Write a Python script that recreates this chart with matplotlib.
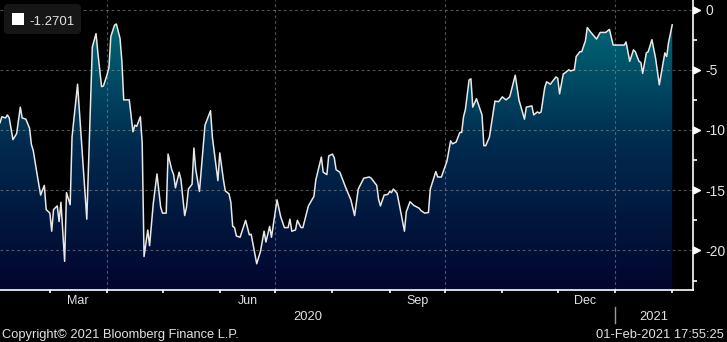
import numpy as np
import pandas as pd
import matplotlib
matplotlib.use("Agg")
import matplotlib.pyplot as plt
import matplotlib.dates as mdates
import matplotlib.transforms as mtransforms
from matplotlib.colors import LinearSegmentedColormap
from matplotlib.patches import FancyBboxPatch, Rectangle
from matplotlib.lines import Line2D

# series
dates = [
    "2020-02-03", "2020-02-04", "2020-02-06", "2020-02-07", "2020-02-08", "2020-02-10",
    "2020-02-12", "2020-02-14", "2020-02-15", "2020-02-17", "2020-02-19", "2020-02-20",
    "2020-02-21", "2020-02-23", "2020-02-25", "2020-02-27", "2020-02-28", "2020-03-01",
    "2020-03-02", "2020-03-03", "2020-03-05", "2020-03-06", "2020-03-07", "2020-03-09",
    "2020-03-10", "2020-03-12", "2020-03-13", "2020-03-16", "2020-03-19", "2020-03-21",
    "2020-03-24", "2020-03-26", "2020-03-27", "2020-03-29", "2020-03-30", "2020-04-01",
    "2020-04-02", "2020-04-03", "2020-04-05", "2020-04-06", "2020-04-08", "2020-04-09",
    "2020-04-10", "2020-04-13", "2020-04-15", "2020-04-16", "2020-04-17", "2020-04-19",
    "2020-04-20", "2020-04-21", "2020-04-23", "2020-04-24", "2020-04-26", "2020-04-28",
    "2020-04-30", "2020-05-01", "2020-05-03", "2020-05-04", "2020-05-06", "2020-05-07",
    "2020-05-08", "2020-05-10", "2020-05-11", "2020-05-13", "2020-05-14", "2020-05-15",
    "2020-05-17", "2020-05-18", "2020-05-19", "2020-05-21", "2020-05-24", "2020-05-25",
    "2020-05-27", "2020-05-28", "2020-05-30", "2020-05-31", "2020-06-01", "2020-06-03",
    "2020-06-04", "2020-06-06", "2020-06-07", "2020-06-08", "2020-06-09", "2020-06-10",
    "2020-06-12", "2020-06-15", "2020-06-17", "2020-06-18", "2020-06-21", "2020-06-23",
    "2020-06-25", "2020-06-26", "2020-06-28", "2020-06-29", "2020-07-02", "2020-07-04",
    "2020-07-06", "2020-07-08", "2020-07-09", "2020-07-10", "2020-07-12", "2020-07-13",
    "2020-07-15", "2020-07-16", "2020-07-19", "2020-07-22", "2020-07-23", "2020-07-26",
    "2020-07-27", "2020-07-29", "2020-07-30", "2020-08-01", "2020-08-02", "2020-08-03",
    "2020-08-05", "2020-08-08", "2020-08-11", "2020-08-13", "2020-08-15", "2020-08-18",
    "2020-08-21", "2020-08-22", "2020-08-25", "2020-08-26", "2020-08-27", "2020-08-29",
    "2020-08-31", "2020-09-01", "2020-09-02", "2020-09-03", "2020-09-05", "2020-09-07",
    "2020-09-09", "2020-09-10", "2020-09-12", "2020-09-14", "2020-09-17", "2020-09-18",
    "2020-09-20", "2020-09-22", "2020-09-23", "2020-09-26", "2020-09-27", "2020-09-29",
    "2020-10-02", "2020-10-04", "2020-10-05", "2020-10-07", "2020-10-09", "2020-10-10",
    "2020-10-11", "2020-10-12", "2020-10-14", "2020-10-15", "2020-10-16", "2020-10-18",
    "2020-10-21", "2020-10-22", "2020-10-23", "2020-10-25", "2020-10-28", "2020-10-30",
    "2020-11-01", "2020-11-03", "2020-11-05", "2020-11-08", "2020-11-10", "2020-11-13",
    "2020-11-14", "2020-11-17", "2020-11-18", "2020-11-20", "2020-11-21", "2020-11-22",
    "2020-11-24", "2020-11-25", "2020-11-27", "2020-11-30", "2020-12-01", "2020-12-02",
    "2020-12-04", "2020-12-05", "2020-12-07", "2020-12-08", "2020-12-10", "2020-12-11",
    "2020-12-13", "2020-12-14", "2020-12-16", "2020-12-17", "2020-12-19", "2020-12-22",
    "2020-12-24", "2020-12-27", "2020-12-29", "2020-12-31", "2021-01-03", "2021-01-06",
    "2021-01-07", "2021-01-09", "2021-01-11", "2021-01-12", "2021-01-14", "2021-01-15",
    "2021-01-16", "2021-01-18", "2021-01-19", "2021-01-21", "2021-01-23", "2021-01-25",
    "2021-01-28", "2021-01-29", "2021-01-30", "2021-02-01",
]
values = [
    -9.4, -8.9, -9.0, -8.75, -9.0, -10.8,
    -10.3, -8.1, -9.0, -9.1, -9.85, -11.2,
    -11.7, -13.6, -15.4, -14.6, -16.6, -16.9,
    -18.4, -16.6, -16.3, -17.6, -16.0, -20.9,
    -15.2, -16.2, -10.6, -6.2, -13.0, -17.4,
    -3.1, -2.0, -3.6, -6.4, -6.35, -5.4,
    -4.8, -2.25, -1.3, -1.2, -2.4, -4.3,
    -7.5, -7.5, -10.15, -9.6, -9.7, -8.9,
    -11.1, -20.5, -18.3, -19.6, -16.1, -13.65,
    -16.4, -16.9, -16.9, -12.0, -13.3, -13.7,
    -14.8, -13.5, -14.15, -17.1, -16.4, -14.9,
    -14.5, -11.5, -13.3, -15.1, -9.6, -9.2,
    -8.4, -10.6, -13.0, -14.2, -11.9, -14.15,
    -15.05, -15.3, -16.0, -18.0, -18.1, -18.8,
    -18.9, -17.5, -18.7, -18.65, -21.1, -20.1,
    -18.4, -19.3, -18.0, -18.9, -15.8, -17.2,
    -18.1, -18.1, -17.4, -18.4, -18.3, -17.5,
    -18.1, -18.1, -16.3, -15.5, -14.15, -12.25,
    -13.5, -13.7, -12.15, -12.0, -12.3, -13.3,
    -13.5, -14.7, -15.8, -17.1, -14.9, -14.0,
    -13.9, -14.0, -14.6, -15.75, -16.3, -15.4,
    -15.35, -15.1, -15.2, -14.9, -15.25, -16.8,
    -18.4, -16.8, -15.95, -16.25, -16.5, -16.7,
    -16.9, -16.85, -14.9, -13.45, -13.9, -13.9,
    -12.6, -10.9, -11.15, -11.0, -10.2, -10.2,
    -8.9, -8.3, -5.85, -5.75, -8.1, -7.4,
    -8.75, -11.3, -11.3, -10.6, -7.6, -7.65,
    -7.25, -7.5, -7.25, -5.45, -7.5, -9.1,
    -8.1, -8.0, -8.75, -8.5, -8.6, -8.5,
    -6.45, -6.0, -6.2, -5.6, -5.7, -7.0,
    -5.35, -5.25, -5.0, -5.1, -5.0, -3.9,
    -3.5, -3.5, -2.6, -1.5, -1.9, -2.45,
    -1.9, -1.9, -1.65, -2.95, -2.95, -2.95,
    -2.7, -4.3, -3.35, -3.5, -4.3, -4.4,
    -5.3, -3.6, -3.5, -2.5, -4.05, -6.25,
    -3.6, -3.9, -2.75, -1.2701,
]
last_value = -1.2701

yticks = [0, -5, -10, -15, -20]
ytick_minor = [-2.5, -7.5, -12.5, -17.5, -22.5]
month_labels = ["Mar", "Jun", "Sep", "Dec"]
month_label_dates = ["2020-03-16", "2020-06-16", "2020-09-16", "2020-12-16"]
grid_dates = ["2020-04-01", "2020-07-01", "2020-10-01", "2021-01-01"]

plt.rcParams["font.family"] = ["Liberation Sans", "DejaVu Sans"]
txt = "#e2e2e2"

x = pd.to_datetime(dates)
x0, x1 = pd.Timestamp("2020-02-03"), pd.Timestamp("2021-02-12 06:00")
y0, y1 = -23.28, 0.79

fig = plt.figure(figsize=(7.27, 3.42), dpi=100, facecolor="black")
ax = fig.add_axes([0, 52 / 342, 693 / 727, 290 / 342])
ax.set_facecolor("black")

# gradient fill under the line
poly = ax.fill_between(x, values, y0 - 5, color="none", lw=0)
cmap = LinearSegmentedColormap.from_list("bb", ["#03052e", "#012a4e", "#00727e"])
xn0, xn1 = mdates.date2num(x0), mdates.date2num(x1)
img = ax.imshow(np.linspace(0, 1, 256).reshape(-1, 1), cmap=cmap, aspect="auto",
                extent=[xn0, xn1, y0, y1], origin="lower", zorder=1)
img.set_clip_path(poly.get_paths()[0], transform=ax.transData)

# dashed grid
for gy in yticks:
    ax.axhline(gy, color="#8a8a8a", lw=0.8, ls=(0, (2.5, 2.5)), alpha=0.6, zorder=2)
for gd in grid_dates:
    ax.axvline(pd.Timestamp(gd), color="#8a8a8a", lw=0.8, ls=(0, (2.5, 2.5)), alpha=0.6, zorder=2)

ax.plot(x, values, color="#e8e8e8", lw=1.1, zorder=3)

ax.set_xlim(x0, x1)
ax.set_ylim(y0, y1)

for s in ["left", "top"]:
    ax.spines[s].set_visible(False)
for s in ["bottom", "right"]:
    ax.spines[s].set_color("white")
    ax.spines[s].set_linewidth(1.2)

# right axis
ax.yaxis.tick_right()
ax.set_yticks(yticks)
ax.set_yticklabels([str(v) for v in yticks])
ax.set_yticks(ytick_minor, minor=True)
ax.tick_params(axis="y", which="major", length=0, pad=9, labelcolor=txt, labelsize=10)
ax.tick_params(axis="y", which="minor", length=3, width=1.2, color="white")
tri = [(0, -1), (2, 0), (0, 1), (0, -1)]
ax.plot([1.0] * len(yticks), yticks, transform=ax.get_yaxis_transform(), marker=tri,
        ms=10, ls="none", color="white", clip_on=False, zorder=5)

# bottom axis
ax.xaxis.set_major_locator(mdates.MonthLocator())
ax.tick_params(axis="x", which="major", length=2.5, width=1.2, color="white", labelbottom=False)
xt = mtransforms.blended_transform_factory(ax.transData, fig.transFigure)
for lab, d in zip(month_labels, month_label_dates):
    fig.text(mdates.date2num(pd.Timestamp(d)), (342 - 304) / 342, lab, transform=xt,
             ha="center", va="baseline", color=txt, fontsize=9)

jan1 = mdates.date2num(pd.Timestamp("2021-01-01"))
fig.text((xn0 + jan1) / 2, (342 - 320.5) / 342, "2020", transform=xt, ha="center",
         va="baseline", color=txt, fontsize=9.3)
fig.text((jan1 + xn1) / 2, (342 - 320.5) / 342, "2021", transform=xt, ha="center",
         va="baseline", color=txt, fontsize=9.3)
fig.add_artist(Line2D([jan1, jan1], [(342 - 307) / 342, (342 - 323) / 342], transform=xt,
                      color="#9a9a9a", lw=1))

# footer
fig.text(2 / 727, (342 - 338) / 342, "Copyright\u00a9 2021 Bloomberg Finance L.P.",
         ha="left", va="baseline", color=txt, fontsize=9.3)
fig.text(724 / 727, (342 - 338) / 342, "01-Feb-2021 17:55:25",
         ha="right", va="baseline", color=txt, fontsize=9.3)

# legend box
tr = fig.dpi_scale_trans
fig.patches.append(FancyBboxPatch((0.04, 3.08), 0.77, 0.30, transform=tr,
                                  boxstyle="round,pad=0,rounding_size=0.04",
                                  fc="#161616", ec="none", zorder=10))
fig.patches.append(Rectangle((0.12, 3.17), 0.12, 0.12, transform=tr, fc="white",
                             ec="none", zorder=11))
fig.text(0.29, 3.17, f"{last_value:.4f}", transform=tr, ha="left", va="baseline",
         color=txt, fontsize=9.5, zorder=12)

fig.savefig("out.png", dpi=100, facecolor="black")
